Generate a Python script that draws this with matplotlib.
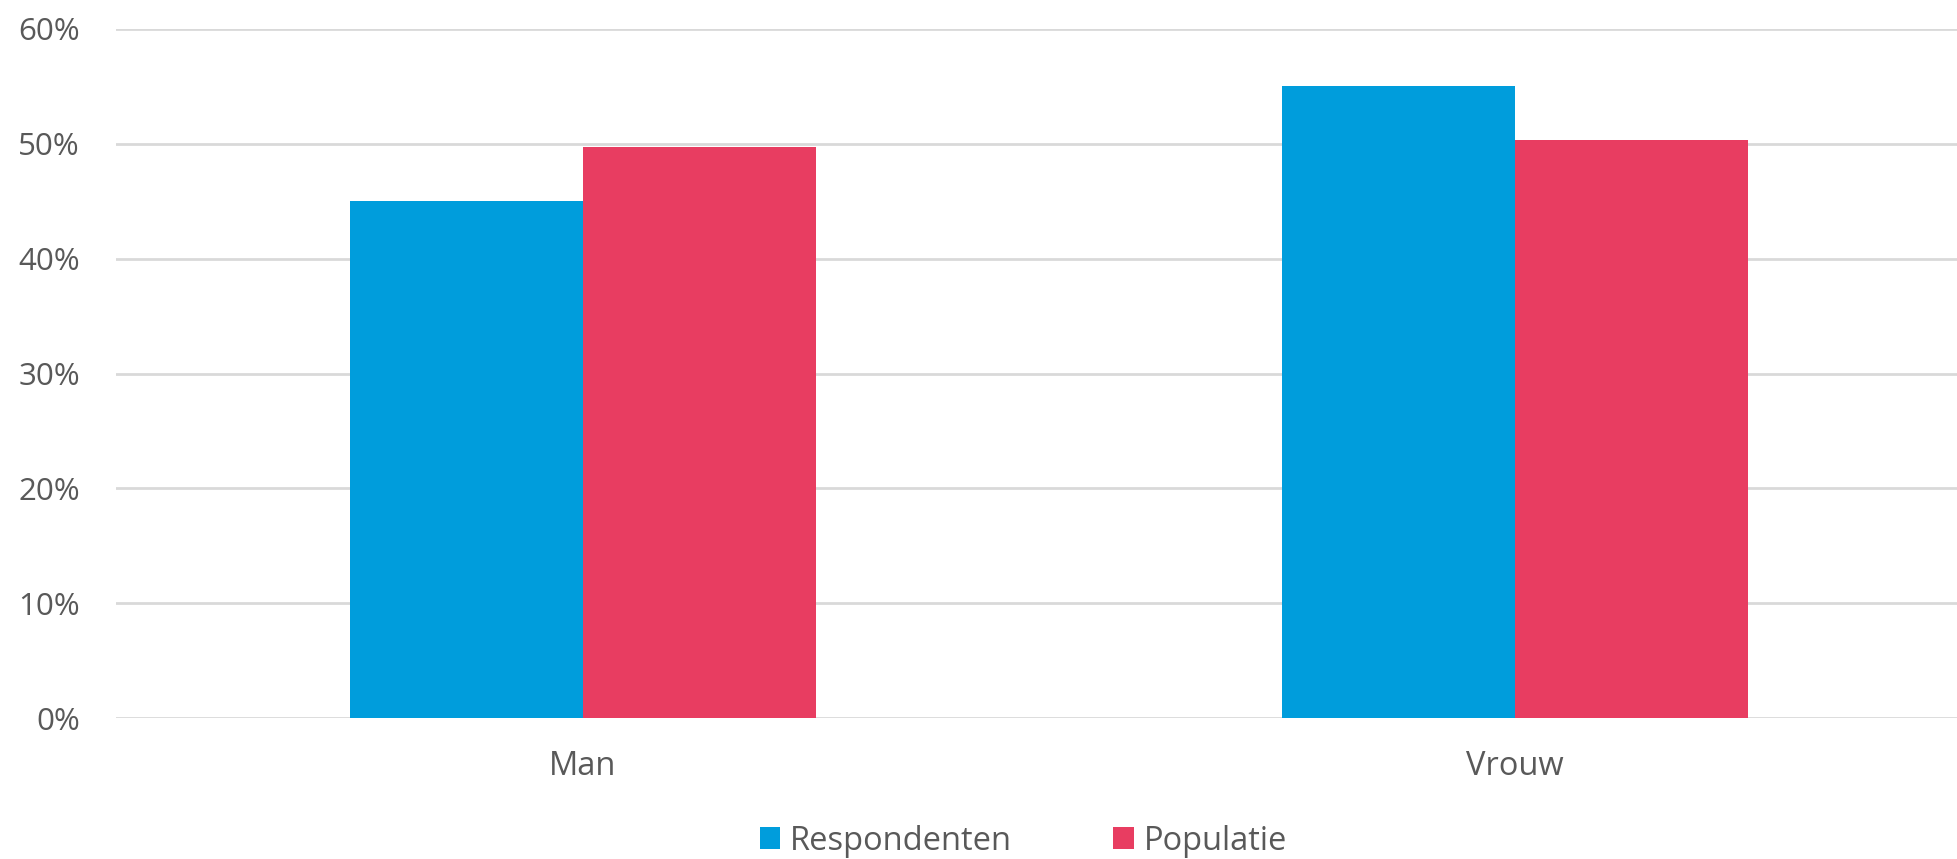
import numpy as np
import matplotlib
matplotlib.use('Agg')
from matplotlib import pyplot as plt
from matplotlib.ticker import PercentFormatter

categories = ['Man', 'Vrouw']
respondenten = [0.450, 0.550]
populatie = [0.497, 0.503]

blue = '#009DDC'
red = '#E83D61'
text_col = '#595959'

plt.rcParams['font.family'] = ['Open Sans', 'DejaVu Sans']

fig = plt.figure(figsize=(19.57, 8.59), dpi=100)
# plot area runs off the right edge of the picture (cropped original)
ax = fig.add_axes([116 / 1957, 1 - 718 / 859, (1957 - 116) / 1957, (718 - 29) / 859])

x = np.arange(len(categories))
w = 0.25
ax.bar(x - w / 2, respondenten, w, color=blue, label='Respondenten', zorder=2)
ax.bar(x + w / 2, populatie, w, color=red, label='Populatie', zorder=2)

ax.set_ylim(0, 0.6)
ax.set_xlim(-0.501, 1.474)
ax.set_yticks(np.arange(0, 0.61, 0.1))
ax.yaxis.set_major_formatter(PercentFormatter(1.0, decimals=0))
ax.grid(axis='y', color='#D9D9D9', linewidth=2, zorder=0)

ax.set_xticks(x)
ax.set_xticklabels(categories)

for s in ax.spines.values():
    s.set_visible(False)
ax.tick_params(axis='both', length=0, colors=text_col)
ax.tick_params(axis='y', pad=26, labelsize=22.5)
ax.tick_params(axis='x', pad=23, labelsize=23.5)

fig.legend(loc='center', bbox_to_anchor=(0.523, 1 - 841 / 859), ncol=2,
           frameon=False, fontsize=23.5, labelcolor=text_col,
           handlelength=0.62, handleheight=0.62, handletextpad=0.3, columnspacing=3.1)

plt.savefig('out.png', dpi=100)
